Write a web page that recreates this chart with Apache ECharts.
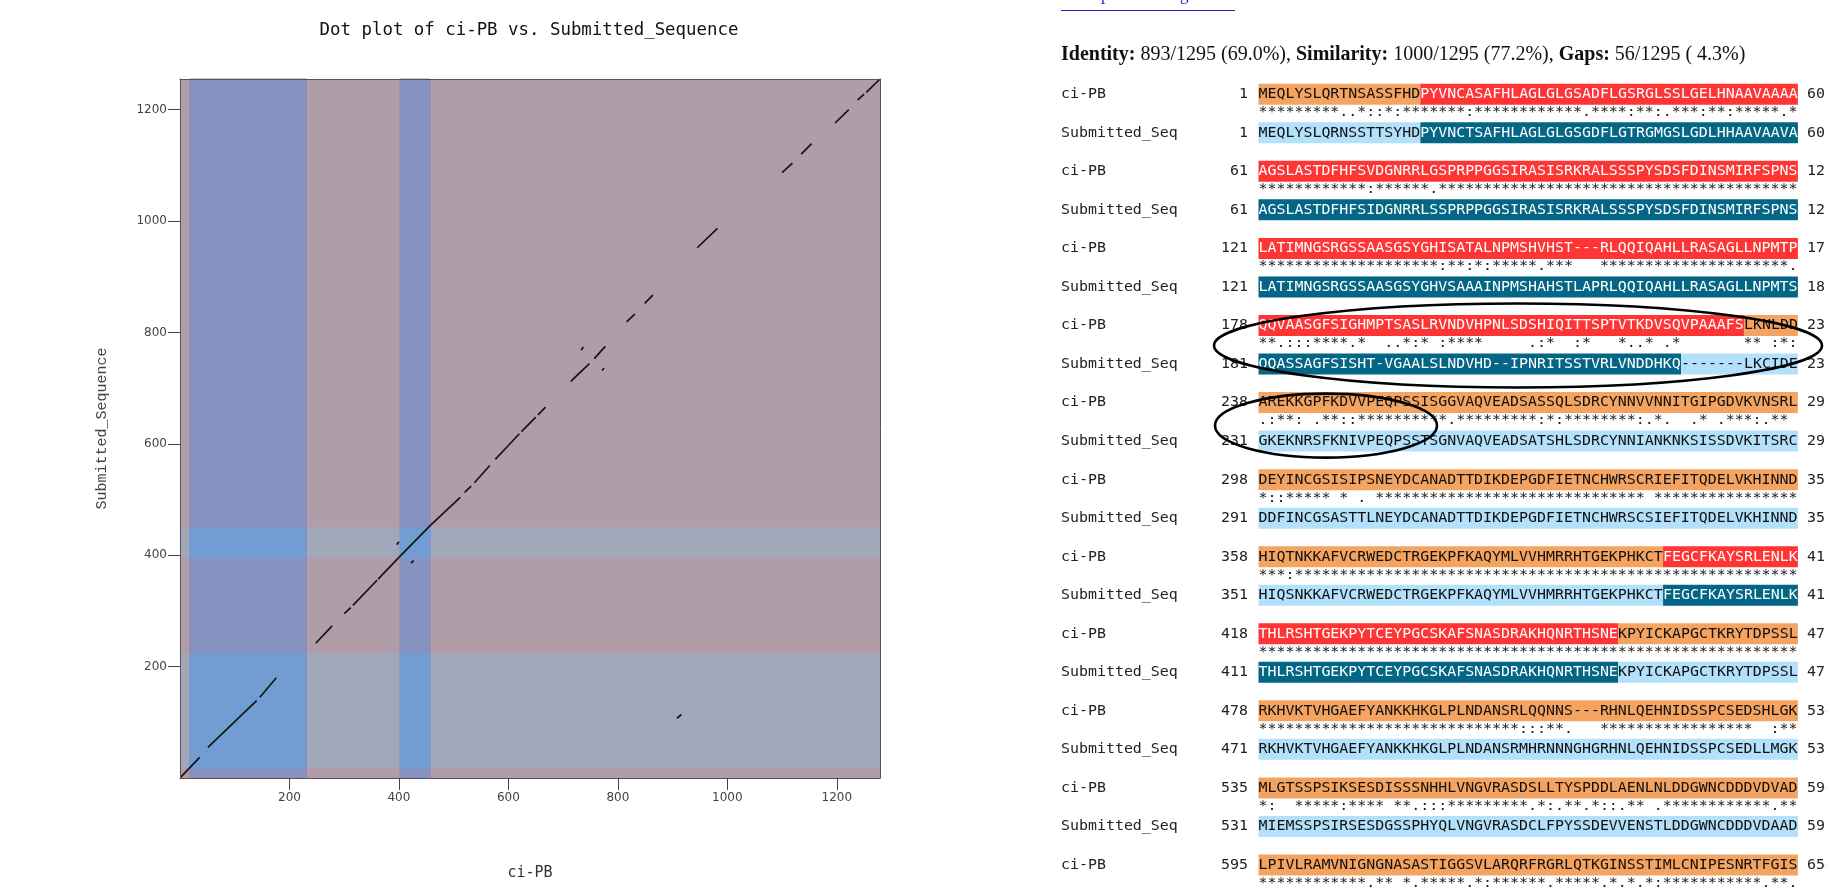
<!DOCTYPE html>
<html>
<head>
<meta charset="utf-8">
<script src="https://cdn.jsdelivr.net/npm/echarts@6/dist/echarts.min.js"></script>
<style>
  html, body { margin: 0; padding: 0; background: #fff; }
  #chart { width: 1826px; height: 892px; }
</style>
</head>
<body>
<div id="chart"></div>
<script>
// ---- Sequence lengths (residues) ----
const ciLength = 1279;
const subLength = 1255;

// ---- Domain regions (residue ranges, inclusive) ----
const ciDomains = [[19, 231], [403, 457]];
const subDomains = [[19, 224], [396, 450]];

// ---- Dot plot match runs: [ci-PB start, Submitted start, ci-PB end, Submitted end] ----
const dotRuns = [
  [1, 1, 36, 37],
  [51, 55, 140, 139],
  [146, 145, 176, 180],
  [248, 242, 278, 273],
  [300, 295, 312, 306],
  [316, 310, 360, 355],
  [362, 357, 400, 396],
  [400, 396, 457, 453],
  [457, 453, 512, 504],
  [520, 513, 532, 524],
  [538, 530, 566, 561],
  [576, 572, 600, 597],
  [600, 597, 620, 618],
  [624, 622, 650, 648],
  [654, 652, 668, 666],
  [714, 712, 748, 744],
  [757, 753, 777, 775],
  [816, 819, 831, 833],
  [849, 852, 864, 867],
  [945, 952, 982, 987],
  [1100, 1087, 1119, 1104],
  [1135, 1120, 1154, 1139],
  [1197, 1176, 1222, 1200],
  [1238, 1217, 1250, 1228],
  [1254, 1231, 1279, 1255]
];
// short off-diagonal hits
const strayRuns = [
  [733, 768, 737, 774],
  [771, 732, 775, 736],
  [396, 419, 400, 424],
  [422, 386, 427, 390],
  [908, 107, 916, 114]
];

const xTicks = [200, 400, 600, 800, 1000, 1200];
const yTicks = [200, 400, 600, 800, 1000, 1200];

// ---- Alignment summary ----
const identityText = '893/1295 (69.0%)';
const similarityText = '1000/1295 (77.2%)';
const gapsText = '56/1295 ( 4.3%)';

// ---- Alignment rows ----
const ciStarts = [1, 61, 121, 178, 238, 298, 358, 418, 478, 535, 595];
const ciEnds = [60, 120, 177, 237, 297, 357, 417, 477, 534, 594, 654];
const subStarts = [1, 61, 121, 181, 231, 291, 351, 411, 471, 531];
const subEnds = [60, 120, 180, 230, 290, 350, 410, 470, 530, 590];

const ciRows = [
  'MEQLYSLQRTNSASSFHDPYVNCASAFHLAGLGLGSADFLGSRGLSSLGELHNAAVAAAA',
  'AGSLASTDFHFSVDGNRRLGSPRPPGGSIRASISRKRALSSSPYSDSFDINSMIRFSPNS',
  'LATIMNGSRGSSAASGSYGHISATALNPMSHVHST---RLQQIQAHLLRASAGLLNPMTP',
  'QQVAASGFSIGHMPTSASLRVNDVHPNLSDSHIQITTSPTVTKDVSQVPAAAFSLKNLDD',
  'AREKKGPFKDVVPEQPSSISGGVAQVEADSASSQLSDRCYNNVVNNITGIPGDVKVNSRL',
  'DEYINCGSISIPSNEYDCANADTTDIKDEPGDFIETNCHWRSCRIEFITQDELVKHINND',
  'HIQTNKKAFVCRWEDCTRGEKPFKAQYMLVVHMRRHTGEKPHKCTFEGCFKAYSRLENLK',
  'THLRSHTGEKPYTCEYPGCSKAFSNASDRAKHQNRTHSNEKPYICKAPGCTKRYTDPSSL',
  'RKHVKTVHGAEFYANKKHKGLPLNDANSRLQQNNS---RHNLQEHNIDSSPCSEDSHLGK',
  'MLGTSSPSIKSESDISSSNHHLVNGVRASDSLLTYSPDDLAENLNLDDGWNCDDDVDVAD',
  'LPIVLRAMVNIGNGNASASTIGGSVLARQRFRGRLQTKGINSSTIMLCNIPESNRTFGIS'
];
const subRows = [
  'MEQLYSLQRNSSTTSYHDPYVNCTSAFHLAGLGLGSGDFLGTRGMGSLGDLHHAAVAAVA',
  'AGSLASTDFHFSIDGNRRLSSPRPPGGSIRASISRKRALSSSPYSDSFDINSMIRFSPNS',
  'LATIMNGSRGSSAASGSYGHVSAAAINPMSHAHSTLAPRLQQIQAHLLRASAGLLNPMTS',
  'QQASSAGFSISHT-VGAALSLNDVHD--IPNRITSSTVRLVNDDHKQ-------LKCIDE',
  'GKEKNRSFKNIVPEQPSSTSGNVAQVEADSATSHLSDRCYNNIANKNKSISSDVKITSRC',
  'DDFINCGSASTTLNEYDCANADTTDIKDEPGDFIETNCHWRSCSIEFITQDELVKHINND',
  'HIQSNKKAFVCRWEDCTRGEKPFKAQYMLVVHMRRHTGEKPHKCTFEGCFKAYSRLENLK',
  'THLRSHTGEKPYTCEYPGCSKAFSNASDRAKHQNRTHSNEKPYICKAPGCTKRYTDPSSL',
  'RKHVKTVHGAEFYANKKHKGLPLNDANSRMHRNNNGHGRHNLQEHNIDSSPCSEDLLMGK',
  'MIEMSSPSIRSESDGSSPHYQLVNGVRASDCLFPYSSDEVVENSTLDDGWNCDDDVDAAD'
];
const matchRows = [
  '*********..*::*:*******:************.****:**:.***:**:*****.*',
  '************:******.****************************************',
  '********************:**:*:*****.***   *********************.',
  '**.:::****.*  ..*:* :****     .:*  :*   *..* .*       ** :*:',
  '.:**: .**::**********.*********:*:********:.*.  .* .***:.** ',
  '*::***** * . ' + '******************************' + ' ' + '****************',
  '***:' + '********************************************************',
  '************************************************************',
  '*****************************' + ':::**.   ' + '*****************' + '  :**',
  '*:  *****:**** **.:::*********.*:.**.*::.** .************.**',
  '************.** *.*****.*:******.*****.*.*.*:***********.**.'
];

// ---- Layout of the alignment panel ----
const L = {
  x0: 1061, seqX: 1258.5, pitch: 8.99, top: 94.3, step: 77.07,
  matchDy: 18, subDy: 38.5, numRight: 1248, endX: 1807, boxH: 21,
  mono: 'DejaVu Sans Mono', monoSize: 14.93
};
const colours = {
  ciIn: ['#ff3434', '#ffffff'],
  ciOut: ['#f4a460', '#111111'],
  subIn: ['#036685', '#ffffff'],
  subOut: ['#b3e0fa', '#111111']
};

function inDomain(n, domains) {
  return domains.some(function (d) { return n >= d[0] && n <= d[1]; });
}

// Split a row into runs of in-domain / out-of-domain columns.
// Gap columns take the state of the next residue.
function rowRuns(row, start, domains) {
  const num = [];
  let n = start;
  for (let i = 0; i < row.length; i++) {
    if (row[i] !== '-') { num[i] = n; n++; } else { num[i] = null; }
  }
  let next = n;
  for (let i = row.length - 1; i >= 0; i--) {
    if (num[i] !== null) next = num[i]; else num[i] = next;
  }
  const runs = [];
  for (let i = 0; i < row.length; i++) {
    const f = inDomain(num[i], domains);
    const last = runs[runs.length - 1];
    if (last && last.inside === f) last.text += row[i];
    else runs.push({ start: i, inside: f, text: row[i] });
  }
  return runs;
}

function monoText(x, y, text, fill, align) {
  return {
    type: 'text', x: x, y: y, silent: true,
    style: {
      text: text, fill: fill, fontFamily: L.mono, fontSize: L.monoSize,
      align: align || 'left', verticalAlign: 'middle'
    }
  };
}

function seqRow(els, y, row, start, domains, inC, outC) {
  rowRuns(row, start, domains).forEach(function (r) {
    const c = r.inside ? inC : outC;
    const x = L.seqX + r.start * L.pitch;
    els.push({
      type: 'rect', silent: true,
      shape: { x: x, y: y - L.boxH / 2, width: r.text.length * L.pitch, height: L.boxH },
      style: { fill: c[0] }
    });
    els.push(monoText(x, y, r.text, c[1]));
  });
}

const graphics = [];

// link line at the top of the panel (mostly above the page edge)
graphics.push({
  type: 'text', x: 1061, y: 4, silent: true,
  style: { text: 'View pairwise alignment', fill: '#2222cc', fontFamily: 'Liberation Serif',
           fontSize: 17, align: 'left', verticalAlign: 'bottom' }
});
graphics.push({
  type: 'line', silent: true,
  shape: { x1: 1061, y1: 10.5, x2: 1235, y2: 10.5 },
  style: { stroke: '#2222cc', lineWidth: 1 }
});

// summary line
graphics.push({
  type: 'text', x: 1061, y: 54.5, silent: true,
  style: {
    text: '{b|Identity:} {n|' + identityText + ',} {b|Similarity:} {n|' + similarityText +
          ',} {b|Gaps:} {n|' + gapsText + '}',
    align: 'left', verticalAlign: 'middle', fill: '#111',
    fontFamily: 'Liberation Serif', fontSize: 20,
    rich: {
      b: { fontFamily: 'Liberation Serif', fontSize: 20, fontWeight: 'bold', fill: '#111' },
      n: { fontFamily: 'Liberation Serif', fontSize: 20, fill: '#111' }
    }
  }
});

ciRows.forEach(function (row, k) {
  const y = L.top + k * L.step;
  graphics.push(monoText(L.x0, y, 'ci-PB', '#222'));
  graphics.push(monoText(L.numRight, y, String(ciStarts[k]), '#222', 'right'));
  seqRow(graphics, y, row, ciStarts[k], ciDomains, colours.ciIn, colours.ciOut);
  graphics.push(monoText(L.endX, y, String(ciEnds[k]), '#222'));

  graphics.push(monoText(L.seqX, y + L.matchDy, matchRows[k], '#222'));

  if (k < subRows.length) {
    const ys = y + L.subDy;
    graphics.push(monoText(L.x0, ys, 'Submitted_Seq', '#222'));
    graphics.push(monoText(L.numRight, ys, String(subStarts[k]), '#222', 'right'));
    seqRow(graphics, ys, subRows[k], subStarts[k], subDomains, colours.subIn, colours.subOut);
    graphics.push(monoText(L.endX, ys, String(subEnds[k]), '#222'));
  }
});

// hand-drawn rings around the divergent stretch
graphics.push({
  type: 'ellipse', silent: true,
  shape: { cx: 1518, cy: L.top + 3 * L.step + 20, rx: 304, ry: 42 },
  style: { fill: 'none', stroke: '#000', lineWidth: 2.6 }
});
graphics.push({
  type: 'ellipse', silent: true,
  shape: { cx: 1326, cy: L.top + 4 * L.step + 23, rx: 111, ry: 32 },
  style: { fill: 'none', stroke: '#000', lineWidth: 2.6 }
});

// ---- Dot plot shading: domain bands and their crossings ----
const bandV = '#8593c0', bandH = '#a0a8ba', bandX = '#719dd2';
const areas = [];
subDomains.forEach(function (d) {
  areas.push([{ yAxis: d[0] - 1, itemStyle: { color: bandH, opacity: 1 } }, { yAxis: d[1] }]);
});
ciDomains.forEach(function (d) {
  areas.push([{ xAxis: d[0] - 1, itemStyle: { color: bandV, opacity: 1, borderColor: '#9585bd', borderWidth: 1 } },
              { xAxis: d[1] }]);
});
ciDomains.forEach(function (a) {
  subDomains.forEach(function (b) {
    areas.push([{ xAxis: a[0] - 1, yAxis: b[0] - 1, itemStyle: { color: bandX, opacity: 1 } },
                { xAxis: a[1], yAxis: b[1] }]);
  });
});

const frame = { show: true, onZero: false, lineStyle: { color: '#5a5058', width: 1 } };
const tickFont = { fontFamily: 'DejaVu Sans', fontSize: 12, color: '#444',
                   formatter: function (v) { return String(v); } };

const option = {
  animation: false,
  backgroundColor: '#ffffff',
  title: {
    text: 'Dot plot of ci-PB vs. Submitted_Sequence',
    left: 529, top: 22, textAlign: 'center', padding: 0,
    textStyle: { fontFamily: 'DejaVu Sans Mono', fontSize: 17.4, fontWeight: 'normal', color: '#111' }
  },
  grid: { left: 180, top: 79, width: 700, height: 699, show: true, backgroundColor: '#b09da8', borderWidth: 0 },
  xAxis: [{
    type: 'value', min: 0, max: ciLength, interval: 200, position: 'bottom', z: 10,
    axisLine: frame,
    axisTick: { show: true, length: 12, customValues: xTicks, lineStyle: { color: '#444' } },
    axisLabel: Object.assign({ customValues: xTicks, margin: 14 }, tickFont),
    splitLine: { show: false },
    name: 'ci-PB', nameLocation: 'middle', nameGap: 88,
    nameTextStyle: { fontFamily: 'DejaVu Sans Mono', fontSize: 15, color: '#333' }
  }, {
    type: 'value', min: 0, max: ciLength, position: 'top', z: 10,
    axisLine: frame, axisTick: { show: false }, axisLabel: { show: false }, splitLine: { show: false }
  }],
  yAxis: [{
    type: 'value', min: 0, max: subLength, interval: 200, position: 'left', z: 10,
    axisLine: frame,
    axisTick: { show: true, length: 12, customValues: yTicks, lineStyle: { color: '#444' } },
    axisLabel: Object.assign({ customValues: yTicks, margin: 13 }, tickFont),
    splitLine: { show: false },
    name: 'Submitted_Sequence', nameLocation: 'middle', nameGap: 70, nameRotate: 90,
    nameTextStyle: { fontFamily: 'Liberation Mono', fontSize: 15, color: '#444' }
  }, {
    type: 'value', min: 0, max: subLength, position: 'right', z: 10,
    axisLine: frame, axisTick: { show: false }, axisLabel: { show: false }, splitLine: { show: false }
  }],
  series: [{
    type: 'scatter', data: [[0, 0]], symbolSize: 0, silent: true,
    markArea: { silent: true, data: areas }
  }, {
    type: 'lines', coordinateSystem: 'cartesian2d', polyline: false, silent: true, z: 5,
    lineStyle: { color: '#141414', width: 1.7, opacity: 1 },
    data: dotRuns.concat(strayRuns).map(function (r) {
      return { coords: [[r[0], r[1]], [r[2], r[3]]] };
    })
  }],
  graphic: { elements: graphics }
};

const chart = echarts.init(document.getElementById('chart'), null, { renderer: 'canvas' });
chart.setOption(option);
</script>
</body>
</html>
